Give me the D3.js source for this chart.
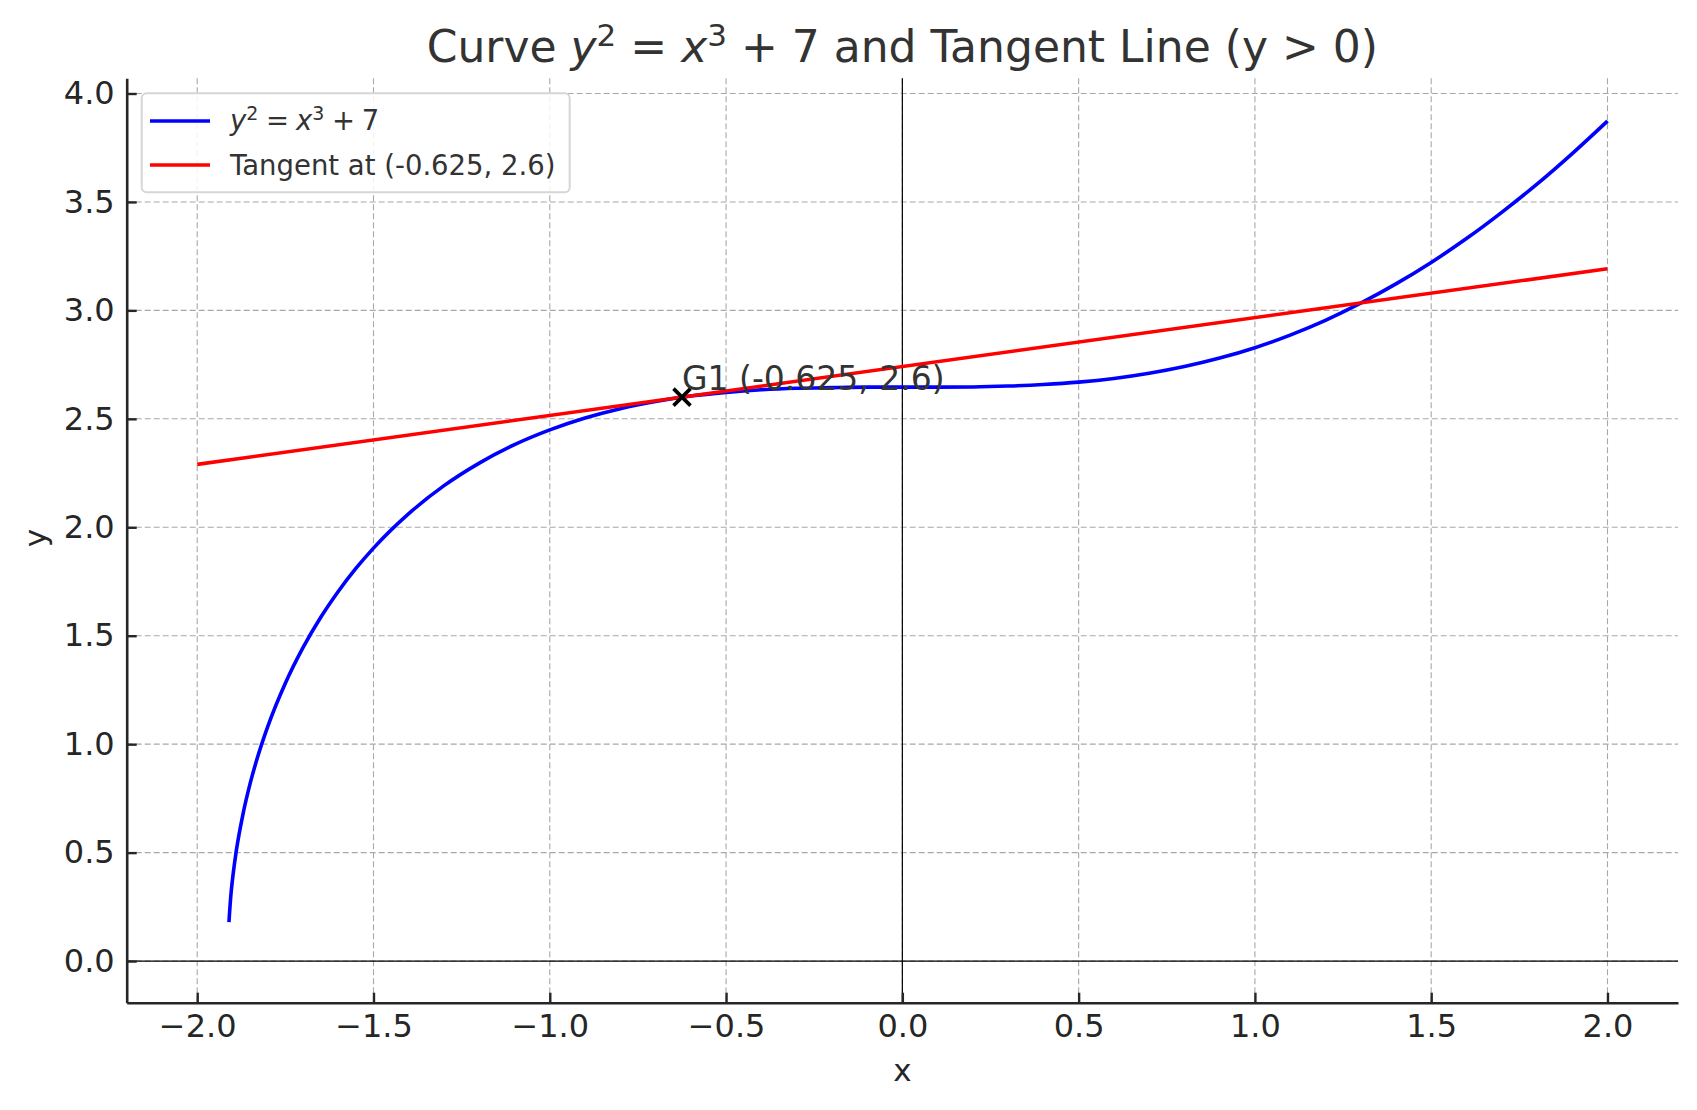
<!DOCTYPE html>
<html>
<head>
<meta charset="utf-8">
<script src="https://d3js.org/d3.v7.min.js"></script>
<style>
  body { margin: 0; background: #fff; }
  text { font-family: "DejaVu Sans", sans-serif; }
</style>
</head>
<body>
<svg id="chart"></svg>
<script>
  // values
  var curveX = [-1.91, -1.905, -1.9, -1.89, -1.87, -1.85, -1.83, -1.8, -1.75, -1.7, -1.65, -1.6, -1.55, -1.5,
                -1.4, -1.3, -1.2, -1.1, -1.0, -0.9, -0.8, -0.7, -0.6, -0.5, -0.4, -0.3, -0.2, -0.1, 0.0,
                0.1, 0.2, 0.3, 0.4, 0.5, 0.6, 0.7, 0.8, 0.9, 1.0, 1.1, 1.2, 1.3, 1.4, 1.5, 1.6, 1.7, 1.8, 1.9, 2.0];
  var curveY = [0.18, 0.295, 0.375, 0.499, 0.679, 0.818, 0.934, 1.081, 1.281, 1.445, 1.584, 1.704, 1.810, 1.904,
                2.063, 2.192, 2.296, 2.381, 2.449, 2.504, 2.547, 2.580, 2.605, 2.622, 2.634, 2.641, 2.644, 2.646, 2.646,
                2.646, 2.647, 2.651, 2.658, 2.669, 2.686, 2.710, 2.741, 2.780, 2.828, 2.886, 2.954, 3.033, 3.122, 3.221,
                3.331, 3.452, 3.582, 3.723, 3.873];
  var tangentX = [-2.0, 2.0];
  var tangentY = [2.290, 3.192];
  var pointX = -0.625;
  var pointY = 2.6;
  var pointLabel = "G1 (-0.625, 2.6)";
  var xTicks = [-2.0, -1.5, -1.0, -0.5, 0.0, 0.5, 1.0, 1.5, 2.0];
  var yTicks = [0.0, 0.5, 1.0, 1.5, 2.0, 2.5, 3.0, 3.5, 4.0];

  var width = 1697, height = 1110;
  var mLeft = 126.7, mRight = 1678, mTop = 78.3, mBottom = 1002.7;

  var svg = d3.select("#chart").attr("width", width).attr("height", height);

  var xscale = d3.scaleLinear().domain([-2.2, 2.2]).range([mLeft, mRight]);
  var yscale = d3.scaleLinear().domain([-0.192, 4.07]).range([mBottom, mTop]);

  //grid
  svg.selectAll(".vgrid").data(xTicks).enter().append("line")
    .attr("x1", function(d) { return xscale(d); }).attr("x2", function(d) { return xscale(d); })
    .attr("y1", mTop).attr("y2", mBottom)
    .attr("stroke", "#a8a8a8").attr("stroke-width", 1.1).attr("stroke-dasharray", "6,3");
  svg.selectAll(".hgrid").data(yTicks).enter().append("line")
    .attr("y1", function(d) { return yscale(d); }).attr("y2", function(d) { return yscale(d); })
    .attr("x1", mLeft).attr("x2", mRight)
    .attr("stroke", "#a8a8a8").attr("stroke-width", 1.1).attr("stroke-dasharray", "6,3");

  //axhline / axvline at zero
  svg.append("line").attr("x1", mLeft).attr("x2", mRight)
    .attr("y1", yscale(0)).attr("y2", yscale(0))
    .attr("stroke", "#000").attr("stroke-width", 1.2);
  svg.append("line").attr("x1", xscale(0)).attr("x2", xscale(0))
    .attr("y1", mTop).attr("y2", mBottom)
    .attr("stroke", "#000").attr("stroke-width", 1.2);

  //curve and tangent
  var curvePts = curveX.map(function(x, i) { return [x, curveY[i]]; });
  var tangentPts = tangentX.map(function(x, i) { return [x, tangentY[i]]; });

  svg.append("path").datum(curvePts)
    .attr("d", d3.line().x(function(d) { return xscale(d[0]); }).y(function(d) { return yscale(d[1]); })
      .curve(d3.curveMonotoneX))
    .attr("fill", "none").attr("stroke", "#0000ff").attr("stroke-width", 3.6);
  svg.append("path").datum(tangentPts)
    .attr("d", d3.line().x(function(d) { return xscale(d[0]); }).y(function(d) { return yscale(d[1]); }))
    .attr("fill", "none").attr("stroke", "#ff0000").attr("stroke-width", 3.6);

  //marker x
  var px = xscale(pointX), py = yscale(pointY), m = 8.5;
  svg.append("path")
    .attr("d", "M" + (px - m) + "," + (py - m) + "L" + (px + m) + "," + (py + m) +
               "M" + (px - m) + "," + (py + m) + "L" + (px + m) + "," + (py - m))
    .attr("stroke", "#000").attr("stroke-width", 3.6);

  svg.append("text").attr("x", px).attr("y", py - 7)
    .attr("font-size", 33).attr("fill", "#333").text(pointLabel);

  //axes spines
  var xAxis = d3.axisBottom(xscale).tickValues(xTicks).tickFormat(d3.format(".1f"))
    .tickSizeInner(-10).tickSizeOuter(0).tickPadding(12);
  var gx = svg.append("g").attr("transform", "translate(0," + mBottom + ")").call(xAxis);
  var yAxis = d3.axisLeft(yscale).tickValues(yTicks).tickFormat(d3.format(".1f"))
    .tickSizeInner(-10).tickSizeOuter(0).tickPadding(12);
  var gy = svg.append("g").attr("transform", "translate(" + mLeft + ",0)").call(yAxis);

  [gx, gy].forEach(function(g) {
    g.select(".domain").attr("stroke", "#262626").attr("stroke-width", 2.6);
    g.selectAll(".tick line").attr("stroke", "#262626").attr("stroke-width", 2.4);
    g.selectAll(".tick text").attr("font-size", 32).attr("fill", "#262626")
      .attr("font-family", "DejaVu Sans");
  });
  gx.selectAll(".tick text").attr("dy", "0.71em");

  //axis labels
  svg.append("text").attr("x", (mLeft + mRight) / 2).attr("y", 1081)
    .attr("text-anchor", "middle").attr("font-size", 31).attr("fill", "#262626").text("x");
  svg.append("text").attr("transform", "translate(46,538) rotate(-90)")
    .attr("text-anchor", "middle").attr("font-size", 31).attr("fill", "#262626").text("y");

  //title
  var title = svg.append("text").attr("x", (mLeft + mRight) / 2).attr("y", 62)
    .attr("text-anchor", "middle").attr("font-size", 44).attr("fill", "#333");
  title.append("tspan").text("Curve ");
  title.append("tspan").attr("font-style", "italic").text("y");
  title.append("tspan").attr("font-size", 31).attr("dy", -16).text("2");
  title.append("tspan").attr("dy", 16).text(" = ");
  title.append("tspan").attr("font-style", "italic").text("x");
  title.append("tspan").attr("font-size", 31).attr("dy", -16).text("3");
  title.append("tspan").attr("dy", 16).text(" + 7 and Tangent Line (y > 0)");

  //legend
  var lg = svg.append("g");
  lg.append("rect").attr("x", 141.7).attr("y", 93.3).attr("width", 428).attr("height", 99)
    .attr("rx", 5).attr("fill", "#fff").attr("fill-opacity", 0.85)
    .attr("stroke", "#d6d6d6").attr("stroke-width", 2);
  var legendItems = [
    { color: "#0000ff", y: 121 },
    { color: "#ff0000", y: 165 }
  ];
  lg.selectAll(".lline").data(legendItems).enter().append("line")
    .attr("x1", 150).attr("x2", 210)
    .attr("y1", function(d) { return d.y; }).attr("y2", function(d) { return d.y; })
    .attr("stroke", function(d) { return d.color; }).attr("stroke-width", 3.6);

  var t1 = lg.append("text").attr("x", 230).attr("y", 130).attr("font-size", 27.5).attr("fill", "#333");
  t1.append("tspan").attr("font-style", "italic").text("y");
  t1.append("tspan").attr("font-size", 19).attr("dy", -10).text("2");
  t1.append("tspan").attr("dy", 10).attr("letter-spacing", -1).text(" = ");
  t1.append("tspan").attr("font-style", "italic").text("x");
  t1.append("tspan").attr("font-size", 19).attr("dy", -10).text("3");
  t1.append("tspan").attr("dy", 10).attr("letter-spacing", -1).text(" + 7");
  lg.append("text").attr("x", 230).attr("y", 175).attr("font-size", 27.5).attr("fill", "#333")
    .text("Tangent at (-0.625, 2.6)");
</script>
</body>
</html>
